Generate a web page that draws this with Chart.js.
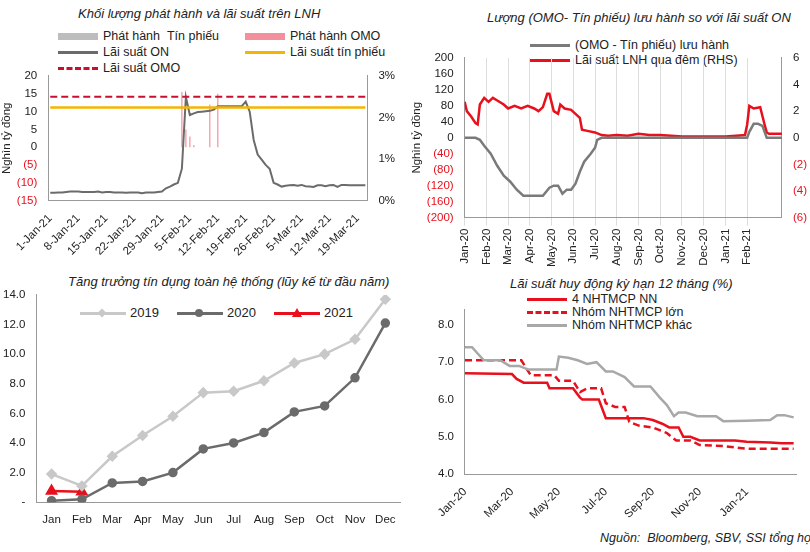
<!DOCTYPE html>
<html><head><meta charset="utf-8">
<script src="https://cdn.jsdelivr.net/npm/chart.js@4"></script>
<style>
body{margin:0;width:810px;height:552px;background:#fff;font-family:"Liberation Sans",Arial,sans-serif;position:relative;overflow:hidden}
.box{position:absolute}
.t{position:absolute;font-style:italic;font-size:13px;color:#222;white-space:nowrap}
.lg{position:absolute;font-size:12.5px;color:#222;white-space:nowrap;line-height:16px}
.sw{display:inline-block;width:40px;height:0;vertical-align:middle;margin-right:5px}
.pt{position:relative;display:inline-block;width:46px;height:0;border-top:3px solid;vertical-align:middle;margin-right:4px}
.pt i{position:absolute;left:18px;top:-6px;width:8px;height:8px}
</style></head><body>
<div class="t" style="left:78px;top:6px">Khối lượng phát hành và lãi suất trên LNH</div>
<div class="lg" style="left:58px;top:28px">
<div><span class="sw" style="border-top:7px solid #bdbdbd"></span>Phát hành &nbsp;Tín phiếu</div>
<div><span class="sw" style="border-top:3px solid #6b6b6b"></span>Lãi suất ON</div>
<div><span class="sw" style="border-top:3px dashed #c8102e"></span>Lãi suất OMO</div></div>
<div class="lg" style="left:245px;top:28px">
<div><span class="sw" style="border-top:7px solid #f4909c"></span>Phát hành OMO</div>
<div><span class="sw" style="border-top:3px solid #f5b400"></span>Lãi suất tín phiếu</div></div>
<div class="box" style="left:0;top:66px;width:400px;height:196px"><canvas id="c1"></canvas></div>

<div class="t" style="left:487px;top:10px">Lượng (OMO- Tín phiếu) lưu hành so với lãi suất ON</div>
<div class="lg" style="left:530px;top:38px;line-height:15px">
<div><span class="sw" style="border-top:3px solid #7a7a7a"></span>(OMO - Tín phiếu) lưu hành</div>
<div><span class="sw" style="border-top:3px solid #e8101c"></span>Lãi suất LNH qua đêm (RHS)</div></div>
<div class="box" style="left:410px;top:48px;width:400px;height:222px"><canvas id="c2"></canvas></div>

<div class="t" style="left:68px;top:274px">Tăng trưởng tín dụng toàn hệ thống (lũy kế từ đầu năm)</div>
<div class="lg" style="left:80px;top:305px;font-size:13px">
<span class="pt" style="border-color:#c8c8c8"><i style="background:#c8c8c8;transform:rotate(45deg) scale(.8)"></i></span>2019 &nbsp;&nbsp;&nbsp;
<span class="pt" style="border-color:#6b6b6b"><i style="background:#6b6b6b;border-radius:50%"></i></span>2020 &nbsp;&nbsp;&nbsp;
<span class="pt" style="border-color:#e8101c"><i style="width:0;height:0;border-left:5px solid transparent;border-right:5px solid transparent;border-bottom:9px solid #e8101c;top:-7px"></i></span>2021</div>
<div class="box" style="left:0;top:285px;width:408px;height:245px"><canvas id="c3"></canvas></div>

<div class="t" style="left:510px;top:276px">Lãi suất huy động kỳ hạn 12 tháng (%)</div>
<div class="lg" style="left:527px;top:293px;line-height:13px">
<div><span class="sw" style="border-top:3px solid #e8101c"></span>4 NHTMCP NN</div>
<div><span class="sw" style="border-top:3px dashed #e8101c"></span>Nhóm NHTMCP lớn</div>
<div><span class="sw" style="border-top:3px solid #a8a8a8"></span>Nhóm NHTMCP khác</div></div>
<div class="box" style="left:415px;top:300px;width:395px;height:225px"><canvas id="c4"></canvas></div>
<div class="t" style="left:600px;top:531px;font-size:12.5px">Nguồn: &nbsp;Bloomberg, SBV, SSI tổng hợp</div>

<script>
Chart.defaults.font.family = '"Liberation Sans", Arial, sans-serif';
Chart.defaults.font.size = 11.5;
Chart.defaults.color = '#222';
Chart.defaults.animation = false;
const noLeg = {legend: {display: false}, tooltip: {enabled: false}};
const paren = v => v < 0 ? '(' + Math.abs(v) + ')' : v;
const redNeg = c => c.tick.value < 0 ? '#e8101c' : '#222';
const months = ['Jan','Feb','Mar','Apr','May','Jun','Jul','Aug','Sep','Oct','Nov','Dec'];
const monthLbl = v => months[v % 12] + '-' + (20 + Math.floor(v / 12));

// ---- chart 1: daily, 1-Jan-21 .. 21-Mar-21
const days = [];
const mname = ['Jan','Feb','Mar'];
const mlen = [31, 28, 21];
mlen.forEach((n, m) => { for (let d = 1; d <= n; d++) days.push(d + '-' + mname[m] + '-21'); });
const onRate = [0.19,0.19,0.2,0.2,0.21,0.22,0.22,0.22,0.21,0.21,0.21,0.21,0.22,0.2,0.21,0.21,0.2,0.2,0.2,0.19,0.2,0.2,0.2,0.18,0.2,0.2,0.2,0.21,0.22,0.3,0.34,0.39,0.43,0.77,2.49,2.06,2.1,2.13,2.14,2.15,2.16,2.19,2.27,2.27,2.27,2.27,2.27,2.27,2.27,2.38,2.14,1.46,1.11,0.99,0.86,0.77,0.43,0.39,0.34,0.36,0.37,0.38,0.36,0.38,0.35,0.34,0.33,0.37,0.37,0.35,0.37,0.38,0.33,0.38,0.38,0.37,0.37,0.37,0.37,0.37];
const omo = days.map(() => null);
omo[33] = 15.5; omo[34] = 5; omo[35] = 3; omo[36] = 0.6; omo[40] = 12; omo[42] = 15;
new Chart(document.getElementById('c1'), {
  type: 'bar',
  data: {labels: days, datasets: [
    {type: 'line', data: days.map(() => 2.5), yAxisID: 'y2', borderColor: '#c8102e', borderDash: [7,4], borderWidth: 2, pointRadius: 0},
    {type: 'line', data: days.map(() => 2.24), yAxisID: 'y2', borderColor: '#f5b400', borderWidth: 2.5, pointRadius: 0},
    {type: 'line', data: onRate, yAxisID: 'y2', borderColor: '#6b6b6b', borderWidth: 2, pointRadius: 0},
    {data: omo, backgroundColor: '#f4909c', barPercentage: 0.3, categoryPercentage: 1, yAxisID: 'y'}
  ]},
  options: {responsive: true, maintainAspectRatio: false, plugins: noLeg,
    layout: {padding: {right: 2}},
    scales: {
      x: {grid: {display: false, drawTicks: true}, border: {color: '#999'},
        ticks: {autoSkip: false, maxRotation: 45, minRotation: 45, callback: (v, i) => i % 7 == 0 ? days[i] : null}},
      y: {min: -15, max: 20, ticks: {stepSize: 5, callback: paren, color: redNeg}, grid: {display: false},
        border: {color: '#999'}, title: {display: true, text: 'Nghìn tỷ đồng', padding: 0}},
      y2: {position: 'right', min: 0, max: 3, ticks: {stepSize: 1, callback: v => v + '%'}, grid: {display: false}, border: {color: '#999'}}
    }}
});

// ---- chart 2
const omoTp = [[0,0],[0.5,0],[0.7,-5],[0.9,-20],[1.2,-40],[1.5,-70],[1.8,-95],[2.1,-110],[2.4,-130],[2.7,-145],[3.0,-145],[3.3,-145],[3.6,-145],[3.9,-125],[4.1,-120],[4.3,-120],[4.5,-140],[4.7,-130],[4.9,-130],[5.1,-115],[5.3,-85],[5.5,-60],[5.8,-40],[6.0,-25],[6.1,-5],[6.3,0],[12.8,0],[13.0,0],[13.1,15],[13.3,35],[13.5,35],[13.7,30],[13.9,0],[14.6,0]];
const onLnh = [[0,2.7],[0.1,2.0],[0.3,1.6],[0.5,1.1],[0.6,1.0],[0.7,2.5],[0.9,3.0],[1.1,2.7],[1.3,3.0],[1.5,2.8],[1.8,2.5],[2.0,2.2],[2.3,2.4],[2.6,2.2],[2.9,2.4],[3.2,2.2],[3.4,2.0],[3.6,2.3],[3.8,3.3],[3.9,3.3],[4.1,2.0],[4.3,1.8],[4.4,2.5],[4.6,2.2],[4.9,2.1],[5.1,1.8],[5.3,1.5],[5.4,0.6],[5.7,0.5],[6.0,0.4],[6.3,0.2],[6.6,0.15],[7,0.2],[7.5,0.15],[8,0.3],[8.5,0.2],[9,0.2],[10,0.1],[11,0.1],[12,0.1],[12.5,0.15],[12.9,0.2],[13.0,1.0],[13.1,2.4],[13.3,2.2],[13.6,2.3],[13.8,1.0],[13.9,0.4],[14,0.3],[14.3,0.3],[14.6,0.3]];
const xy = a => a.map(p => ({x: p[0], y: p[1]}));
new Chart(document.getElementById('c2'), {
  type: 'line',
  data: {datasets: [
    {data: xy(omoTp), borderColor: '#7a7a7a', borderWidth: 2.5, pointRadius: 0, yAxisID: 'y'},
    {data: xy(onLnh), borderColor: '#e8101c', borderWidth: 2.5, pointRadius: 0, yAxisID: 'y2'}
  ]},
  options: {responsive: true, maintainAspectRatio: false, plugins: noLeg,
    scales: {
      x: {type: 'linear', min: 0, max: 14.6, grid: {color: '#ddd', drawTicks: true}, border: {color: '#999'},
        ticks: {stepSize: 1, autoSkip: false, maxRotation: 90, minRotation: 90, callback: v => Number.isInteger(v) ? monthLbl(v) : null}},
      y: {min: -200, max: 200, ticks: {stepSize: 40, autoSkip: false, callback: paren, color: redNeg}, grid: {display: false},
        border: {color: '#999'}, title: {display: true, text: 'Nghìn tỷ đồng', padding: 0}},
      y2: {position: 'right', min: -6, max: 6, ticks: {stepSize: 2, autoSkip: false, callback: paren, color: redNeg}, grid: {display: false}, border: {color: '#999'}}
    }}
});

// ---- chart 3
new Chart(document.getElementById('c3'), {
  type: 'line',
  data: {labels: months, datasets: [
    {label: '2019', data: [1.9,1.1,3.1,4.5,5.8,7.4,7.5,8.2,9.4,10.0,11.0,13.7], borderColor: '#c8c8c8', backgroundColor: '#c8c8c8', borderWidth: 2.5, pointStyle: 'rectRot', pointRadius: 4},
    {label: '2020', data: [0.1,0.2,1.3,1.4,2.0,3.6,4.0,4.7,6.1,6.5,8.4,12.1], borderColor: '#6b6b6b', backgroundColor: '#6b6b6b', borderWidth: 2.5, pointRadius: 3.5},
    {label: '2021', data: [0.75,0.7], borderColor: '#e8101c', backgroundColor: '#e8101c', borderWidth: 2.5, pointStyle: 'triangle', pointRadius: 5}
  ]},
  options: {responsive: true, maintainAspectRatio: false, plugins: noLeg,
    layout: {padding: {top: 6, right: 4}},
    scales: {
      x: {offset: true, grid: {display: false, drawTicks: true}, border: {color: '#999'}},
      y: {min: 0, max: 14, ticks: {stepSize: 2, callback: v => v == 0 ? '-' : v.toFixed(1)}, grid: {display: false}, border: {color: '#999'}}
    }}
});

// ---- chart 4
const nn = [[0,6.7],[2,6.68],[2.2,6.55],[2.5,6.45],[3.5,6.45],[3.6,6.3],[4.6,6.3],[4.9,6.05],[5.0,6.0],[5.7,6.0],[6.0,5.5],[7.6,5.5],[8.0,5.45],[8.4,5.35],[8.7,5.25],[9.1,5.25],[9.3,5.0],[9.6,5.0],[10.0,4.9],[11.5,4.9],[12,4.87],[13,4.85],[13.5,4.83],[14,4.83]];
const lon = [[0,7.05],[2.4,7.05],[2.8,6.65],[3.8,6.65],[4.0,6.5],[4.6,6.5],[4.9,6.2],[5.2,6.3],[5.8,6.3],[6.0,5.9],[6.4,5.8],[6.8,5.8],[7.0,5.4],[7.4,5.3],[8.0,5.25],[8.6,5.1],[9.0,4.9],[9.6,4.9],[10.0,4.78],[11,4.75],[12,4.68],[14,4.68]];
const khac = [[0,7.4],[0.3,7.4],[0.8,7.05],[1.5,7.05],[1.9,6.9],[2.3,6.9],[2.7,6.8],[3.9,6.8],[4.0,7.15],[4.4,7.12],[4.8,7.05],[5.2,6.95],[5.6,7.0],[6.0,6.75],[6.3,6.75],[6.8,6.6],[7.2,6.35],[7.9,6.35],[8.3,6.05],[8.6,5.85],[8.9,5.55],[9.1,5.65],[9.4,5.65],[9.9,5.55],[10.7,5.55],[11.0,5.42],[12,5.43],[13.0,5.45],[13.3,5.58],[13.6,5.58],[14,5.52]];
new Chart(document.getElementById('c4'), {
  type: 'line',
  data: {datasets: [
    {data: xy(khac), borderColor: '#a8a8a8', borderWidth: 2.5, pointRadius: 0},
    {data: xy(lon), borderColor: '#e8101c', borderDash: [7,4], borderWidth: 2.5, pointRadius: 0},
    {data: xy(nn), borderColor: '#e8101c', borderWidth: 2.5, pointRadius: 0}
  ]},
  options: {responsive: true, maintainAspectRatio: false, plugins: noLeg,
    layout: {padding: {left: 20, right: 14}},
    scales: {
      x: {type: 'linear', min: 0, max: 14.1, grid: {display: false, drawTicks: true}, border: {color: '#999'},
        ticks: {stepSize: 2, autoSkip: false, maxRotation: 45, minRotation: 45, callback: v => Number.isInteger(v) ? monthLbl(v) : null}},
      y: {min: 4, max: 8.4, ticks: {stepSize: 1, callback: v => Number.isInteger(v) ? v.toFixed(1) : null}, grid: {display: false}, border: {color: '#999'}}
    }}
});
</script>
</body></html>
